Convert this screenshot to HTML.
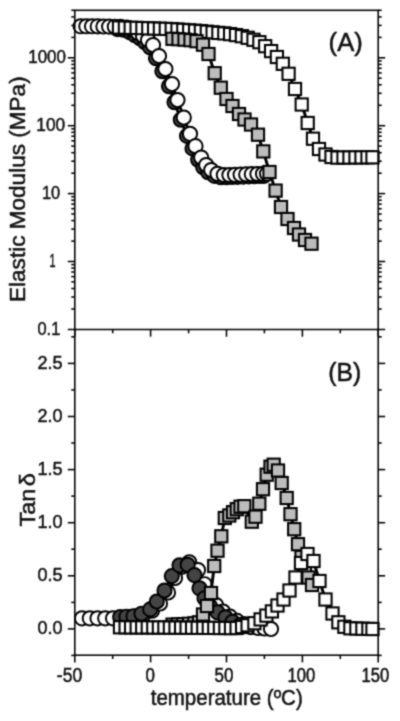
<!DOCTYPE html>
<html lang="en"><head><meta charset="utf-8"><title>DMA: Elastic Modulus and Tan delta vs temperature</title>
<style>html,body{margin:0;padding:0;background:#fff}body{width:400px;height:721px;overflow:hidden}svg{display:block}text{font-family:"Liberation Sans",Arial,sans-serif;fill:#111;stroke:#111;stroke-width:0.5px}</style></head><body>
<svg width="400" height="721" viewBox="0 0 400 721">
<defs><filter id="soft" x="0" y="0" width="400" height="721" filterUnits="userSpaceOnUse" color-interpolation-filters="sRGB"><feConvolveMatrix order="3" kernelMatrix="0.04 0.11 0.04 0.11 0.4 0.11 0.04 0.11 0.04" divisor="1" edgeMode="duplicate" preserveAlpha="false"/></filter></defs>
<g filter="url(#soft)">
<rect width="400" height="721" fill="#fff"/>
<g id="panelA">
<polyline fill="none" stroke="#000" stroke-width="2.9" stroke-linejoin="round" points="117.5,29.1 123.6,29.7 130.0,32.2 135.0,35.2 140.0,38.2 145.0,42.2 150.0,47.2 156.0,58.2 162.4,71.2 169.0,86.2 174.5,102.2 180.8,119.7 187.0,135.9 192.5,148.4 198.2,159.7 203.2,167.2 208.2,172.2 214.5,175.9 220.8,177.2 226.4,177.2 232.0,177.0 237.6,176.8 243.2,176.6 248.8,176.4 254.4,176.2 260.0,176.0 264.0,175.8"/>
<g fill="#444" stroke="#000" stroke-width="1.95"><circle cx="117.5" cy="29.1" r="7.1"/><circle cx="123.6" cy="29.7" r="7.1"/><circle cx="130.0" cy="32.2" r="7.1"/><circle cx="135.0" cy="35.2" r="7.1"/><circle cx="140.0" cy="38.2" r="7.1"/><circle cx="145.0" cy="42.2" r="7.1"/><circle cx="150.0" cy="47.2" r="7.1"/><circle cx="156.0" cy="58.2" r="7.1"/><circle cx="162.4" cy="71.2" r="7.1"/><circle cx="169.0" cy="86.2" r="7.1"/><circle cx="174.5" cy="102.2" r="7.1"/><circle cx="180.8" cy="119.7" r="7.1"/><circle cx="187.0" cy="135.9" r="7.1"/><circle cx="192.5" cy="148.4" r="7.1"/><circle cx="198.2" cy="159.7" r="7.1"/><circle cx="203.2" cy="167.2" r="7.1"/><circle cx="208.2" cy="172.2" r="7.1"/><circle cx="214.5" cy="175.9" r="7.1"/><circle cx="220.8" cy="177.2" r="7.1"/><circle cx="226.4" cy="177.2" r="7.1"/><circle cx="232.0" cy="177.0" r="7.1"/><circle cx="237.6" cy="176.8" r="7.1"/><circle cx="243.2" cy="176.6" r="7.1"/><circle cx="248.8" cy="176.4" r="7.1"/><circle cx="254.4" cy="176.2" r="7.1"/><circle cx="260.0" cy="176.0" r="7.1"/><circle cx="264.0" cy="175.8" r="7.1"/></g>
<polyline fill="none" stroke="#000" stroke-width="2.9" stroke-linejoin="round" points="80.6,26.3 86.3,26.3 92.0,26.3 97.7,26.4 103.4,26.5 109.1,26.6 114.8,26.7 120.5,26.9 126.6,27.5 133.0,30.0 138.0,33.0 143.0,36.0 148.0,40.0 153.0,45.0 159.0,56.0 165.4,69.0 172.0,84.0 177.5,100.0 183.8,117.5 190.0,133.8 195.5,146.2 201.2,157.5 206.2,165.0 211.2,170.0 217.5,173.8 223.8,175.0 229.4,175.0 235.0,174.8 240.6,174.6 246.2,174.4 251.8,174.2 257.4,174.0 263.0,173.8 267.0,173.6"/>
<g fill="#fff" stroke="#000" stroke-width="1.95"><circle cx="80.6" cy="26.3" r="7.1"/><circle cx="86.3" cy="26.3" r="7.1"/><circle cx="92.0" cy="26.3" r="7.1"/><circle cx="97.7" cy="26.4" r="7.1"/><circle cx="103.4" cy="26.5" r="7.1"/><circle cx="109.1" cy="26.6" r="7.1"/><circle cx="114.8" cy="26.7" r="7.1"/><circle cx="120.5" cy="26.9" r="7.1"/><circle cx="126.6" cy="27.5" r="7.1"/><circle cx="133.0" cy="30.0" r="7.1"/><circle cx="138.0" cy="33.0" r="7.1"/><circle cx="143.0" cy="36.0" r="7.1"/><circle cx="148.0" cy="40.0" r="7.1"/><circle cx="153.0" cy="45.0" r="7.1"/><circle cx="159.0" cy="56.0" r="7.1"/><circle cx="165.4" cy="69.0" r="7.1"/><circle cx="172.0" cy="84.0" r="7.1"/><circle cx="177.5" cy="100.0" r="7.1"/><circle cx="183.8" cy="117.5" r="7.1"/><circle cx="190.0" cy="133.8" r="7.1"/><circle cx="195.5" cy="146.2" r="7.1"/><circle cx="201.2" cy="157.5" r="7.1"/><circle cx="206.2" cy="165.0" r="7.1"/><circle cx="211.2" cy="170.0" r="7.1"/><circle cx="217.5" cy="173.8" r="7.1"/><circle cx="223.8" cy="175.0" r="7.1"/><circle cx="229.4" cy="175.0" r="7.1"/><circle cx="235.0" cy="174.8" r="7.1"/><circle cx="240.6" cy="174.6" r="7.1"/><circle cx="246.2" cy="174.4" r="7.1"/><circle cx="251.8" cy="174.2" r="7.1"/><circle cx="257.4" cy="174.0" r="7.1"/><circle cx="263.0" cy="173.8" r="7.1"/><circle cx="267.0" cy="173.6" r="7.1"/></g>
<polyline fill="none" stroke="#000" stroke-width="2.9" stroke-linejoin="round" points="119.0,27.5 124.8,27.6 130.7,27.8 136.6,27.9 142.4,28.1 148.2,28.3 154.1,28.5 159.9,28.7 165.8,28.9 171.7,29.1 177.5,29.5 183.3,29.9 189.2,30.3 195.1,30.7 200.9,31.1 206.8,31.7 212.6,32.3 218.4,32.9 224.3,33.4 230.1,34.1 236.0,35.1 241.8,36.2 247.7,37.8 253.5,39.8 259.4,42.2 265.2,46.2 271.1,51.1 276.9,57.0 282.8,63.8 288.6,73.8 295.0,89.0 301.7,104.5 307.7,123.0 313.0,138.7 319.0,149.0 325.5,154.5 331.5,157.0 337.5,157.6 343.5,157.5 349.5,157.5 355.5,157.4 361.5,157.4 367.5,157.3 372.5,157.3"/>
<g fill="#fff" stroke="#000" stroke-width="2.05"><rect x="112.9" y="21.4" width="12.2" height="12.2"/><rect x="118.8" y="21.5" width="12.2" height="12.2"/><rect x="124.6" y="21.7" width="12.2" height="12.2"/><rect x="130.5" y="21.8" width="12.2" height="12.2"/><rect x="136.3" y="22.0" width="12.2" height="12.2"/><rect x="142.2" y="22.2" width="12.2" height="12.2"/><rect x="148.0" y="22.4" width="12.2" height="12.2"/><rect x="153.8" y="22.6" width="12.2" height="12.2"/><rect x="159.7" y="22.8" width="12.2" height="12.2"/><rect x="165.6" y="23.0" width="12.2" height="12.2"/><rect x="171.4" y="23.4" width="12.2" height="12.2"/><rect x="177.2" y="23.8" width="12.2" height="12.2"/><rect x="183.1" y="24.2" width="12.2" height="12.2"/><rect x="189.0" y="24.6" width="12.2" height="12.2"/><rect x="194.8" y="25.0" width="12.2" height="12.2"/><rect x="200.7" y="25.6" width="12.2" height="12.2"/><rect x="206.5" y="26.2" width="12.2" height="12.2"/><rect x="212.3" y="26.8" width="12.2" height="12.2"/><rect x="218.2" y="27.3" width="12.2" height="12.2"/><rect x="224.0" y="28.0" width="12.2" height="12.2"/><rect x="229.9" y="29.0" width="12.2" height="12.2"/><rect x="235.8" y="30.1" width="12.2" height="12.2"/><rect x="241.6" y="31.7" width="12.2" height="12.2"/><rect x="247.4" y="33.7" width="12.2" height="12.2"/><rect x="253.3" y="36.1" width="12.2" height="12.2"/><rect x="259.1" y="40.1" width="12.2" height="12.2"/><rect x="265.0" y="45.0" width="12.2" height="12.2"/><rect x="270.8" y="50.9" width="12.2" height="12.2"/><rect x="276.7" y="57.7" width="12.2" height="12.2"/><rect x="282.5" y="67.7" width="12.2" height="12.2"/><rect x="288.9" y="82.9" width="12.2" height="12.2"/><rect x="295.6" y="98.4" width="12.2" height="12.2"/><rect x="301.6" y="116.9" width="12.2" height="12.2"/><rect x="306.9" y="132.6" width="12.2" height="12.2"/><rect x="312.9" y="142.9" width="12.2" height="12.2"/><rect x="319.4" y="148.4" width="12.2" height="12.2"/><rect x="325.4" y="150.9" width="12.2" height="12.2"/><rect x="331.4" y="151.5" width="12.2" height="12.2"/><rect x="337.4" y="151.4" width="12.2" height="12.2"/><rect x="343.4" y="151.4" width="12.2" height="12.2"/><rect x="349.4" y="151.3" width="12.2" height="12.2"/><rect x="355.4" y="151.3" width="12.2" height="12.2"/><rect x="361.4" y="151.2" width="12.2" height="12.2"/><rect x="366.4" y="151.2" width="12.2" height="12.2"/></g>
<polyline fill="none" stroke="#000" stroke-width="2.9" stroke-linejoin="round" points="172.5,38.8 178.5,39.2 184.5,39.6 190.5,40.2 196.5,41.2 203.0,44.7 208.5,54.0 214.7,73.2 220.8,87.7 226.5,99.0 232.5,106.0 239.0,114.0 244.5,119.5 251.0,124.5 258.0,134.7 263.3,151.4 269.5,172.0 275.6,190.6 281.0,207.0 287.5,219.0 294.0,228.0 299.0,234.5 305.0,240.0 311.5,243.7"/>
<g fill="#bcbcbc" stroke="#000" stroke-width="2.05"><rect x="166.4" y="32.7" width="12.2" height="12.2"/><rect x="172.4" y="33.1" width="12.2" height="12.2"/><rect x="178.4" y="33.5" width="12.2" height="12.2"/><rect x="184.4" y="34.1" width="12.2" height="12.2"/><rect x="190.4" y="35.1" width="12.2" height="12.2"/><rect x="196.9" y="38.6" width="12.2" height="12.2"/><rect x="202.4" y="47.9" width="12.2" height="12.2"/><rect x="208.6" y="67.1" width="12.2" height="12.2"/><rect x="214.7" y="81.6" width="12.2" height="12.2"/><rect x="220.4" y="92.9" width="12.2" height="12.2"/><rect x="226.4" y="99.9" width="12.2" height="12.2"/><rect x="232.9" y="107.9" width="12.2" height="12.2"/><rect x="238.4" y="113.4" width="12.2" height="12.2"/><rect x="244.9" y="118.4" width="12.2" height="12.2"/><rect x="251.9" y="128.6" width="12.2" height="12.2"/><rect x="257.2" y="145.3" width="12.2" height="12.2"/><rect x="263.4" y="165.9" width="12.2" height="12.2"/><rect x="269.5" y="184.5" width="12.2" height="12.2"/><rect x="274.9" y="200.9" width="12.2" height="12.2"/><rect x="281.4" y="212.9" width="12.2" height="12.2"/><rect x="287.9" y="221.9" width="12.2" height="12.2"/><rect x="292.9" y="228.4" width="12.2" height="12.2"/><rect x="298.9" y="233.9" width="12.2" height="12.2"/><rect x="305.4" y="237.6" width="12.2" height="12.2"/></g>
</g>
<g id="panelB">
<polyline fill="none" stroke="#000" stroke-width="2.9" stroke-linejoin="round" points="82.0,618.3 89.8,618.3 97.5,618.3 105.2,618.3 113.0,618.3 120.8,618.3 127.5,617.3 135.5,616.6 143.5,614.6 152.0,610.7 160.0,603.5 168.0,592.5 175.0,578.0 182.0,566.7 189.3,562.3 198.0,570.0 204.5,584.2 210.0,596.6 216.0,605.0 223.0,611.5 230.0,616.6 237.0,620.9 244.0,624.0 251.0,627.1 258.0,628.0 264.5,628.5 271.0,629.0"/>
<g fill="#fff" stroke="#000" stroke-width="1.95"><circle cx="82.0" cy="618.3" r="7.1"/><circle cx="89.8" cy="618.3" r="7.1"/><circle cx="97.5" cy="618.3" r="7.1"/><circle cx="105.2" cy="618.3" r="7.1"/><circle cx="113.0" cy="618.3" r="7.1"/><circle cx="120.8" cy="618.3" r="7.1"/><circle cx="127.5" cy="617.3" r="7.1"/><circle cx="135.5" cy="616.6" r="7.1"/><circle cx="143.5" cy="614.6" r="7.1"/><circle cx="152.0" cy="610.7" r="7.1"/><circle cx="160.0" cy="603.5" r="7.1"/><circle cx="168.0" cy="592.5" r="7.1"/><circle cx="175.0" cy="578.0" r="7.1"/><circle cx="182.0" cy="566.7" r="7.1"/><circle cx="189.3" cy="562.3" r="7.1"/><circle cx="198.0" cy="570.0" r="7.1"/><circle cx="204.5" cy="584.2" r="7.1"/><circle cx="210.0" cy="596.6" r="7.1"/><circle cx="216.0" cy="605.0" r="7.1"/><circle cx="223.0" cy="611.5" r="7.1"/><circle cx="230.0" cy="616.6" r="7.1"/><circle cx="237.0" cy="620.9" r="7.1"/><circle cx="244.0" cy="624.0" r="7.1"/><circle cx="251.0" cy="627.1" r="7.1"/><circle cx="258.0" cy="628.0" r="7.1"/><circle cx="264.5" cy="628.5" r="7.1"/><circle cx="271.0" cy="629.0" r="7.1"/></g>
<polyline fill="none" stroke="#000" stroke-width="2.9" stroke-linejoin="round" points="120.2,617.0 126.5,616.7 133.5,616.2 141.5,613.7 150.2,609.4 156.8,601.5 164.5,590.5 171.8,576.1 179.5,565.3 187.7,564.8 194.5,575.1 199.5,588.3 204.5,598.3 210.0,606.3 217.5,612.3 225.5,617.3 232.5,621.8 240.0,625.3"/>
<g fill="#444" stroke="#000" stroke-width="1.95"><circle cx="120.2" cy="617.0" r="7.1"/><circle cx="126.5" cy="616.7" r="7.1"/><circle cx="133.5" cy="616.2" r="7.1"/><circle cx="141.5" cy="613.7" r="7.1"/><circle cx="150.2" cy="609.4" r="7.1"/><circle cx="156.8" cy="601.5" r="7.1"/><circle cx="164.5" cy="590.5" r="7.1"/><circle cx="171.8" cy="576.1" r="7.1"/><circle cx="179.5" cy="565.3" r="7.1"/><circle cx="187.7" cy="564.8" r="7.1"/><circle cx="194.5" cy="575.1" r="7.1"/><circle cx="199.5" cy="588.3" r="7.1"/><circle cx="204.5" cy="598.3" r="7.1"/><circle cx="210.0" cy="606.3" r="7.1"/><circle cx="217.5" cy="612.3" r="7.1"/><circle cx="225.5" cy="617.3" r="7.1"/><circle cx="232.5" cy="621.8" r="7.1"/><circle cx="240.0" cy="625.3" r="7.1"/></g>
<polyline fill="none" stroke="#000" stroke-width="2.9" stroke-linejoin="round" points="172.5,624.6 178.0,624.4 183.5,624.1 189.0,623.8 194.5,623.3 199.0,622.3 203.0,614.5 207.0,606.0 211.0,593.0 214.2,566.0 217.5,550.7 221.3,536.3 224.8,518.0 229.2,515.5 233.0,512.2 236.8,509.2 240.5,506.8 244.2,506.2 251.8,521.8 255.5,516.8 259.2,503.8 263.0,489.2 266.8,474.8 270.5,466.8 273.8,464.8 278.0,470.5 281.8,483.0 286.8,498.0 290.5,514.2 294.2,529.2 298.0,544.2 301.5,557.0 305.0,568.0 308.5,577.5 312.0,585.0"/>
<g fill="#bcbcbc" stroke="#000" stroke-width="2.05"><rect x="166.4" y="618.5" width="12.2" height="12.2"/><rect x="171.9" y="618.3" width="12.2" height="12.2"/><rect x="177.4" y="618.0" width="12.2" height="12.2"/><rect x="182.9" y="617.7" width="12.2" height="12.2"/><rect x="188.4" y="617.2" width="12.2" height="12.2"/><rect x="192.9" y="616.2" width="12.2" height="12.2"/><rect x="196.9" y="608.4" width="12.2" height="12.2"/><rect x="200.9" y="599.9" width="12.2" height="12.2"/><rect x="204.9" y="586.9" width="12.2" height="12.2"/><rect x="208.1" y="559.9" width="12.2" height="12.2"/><rect x="211.4" y="544.6" width="12.2" height="12.2"/><rect x="215.2" y="530.2" width="12.2" height="12.2"/><rect x="218.7" y="511.9" width="12.2" height="12.2"/><rect x="223.2" y="509.4" width="12.2" height="12.2"/><rect x="226.9" y="506.1" width="12.2" height="12.2"/><rect x="230.7" y="503.1" width="12.2" height="12.2"/><rect x="234.4" y="500.6" width="12.2" height="12.2"/><rect x="238.2" y="500.1" width="12.2" height="12.2"/><rect x="245.7" y="515.6" width="12.2" height="12.2"/><rect x="249.4" y="510.6" width="12.2" height="12.2"/><rect x="253.2" y="497.6" width="12.2" height="12.2"/><rect x="256.9" y="483.1" width="12.2" height="12.2"/><rect x="260.6" y="468.6" width="12.2" height="12.2"/><rect x="264.4" y="460.6" width="12.2" height="12.2"/><rect x="267.6" y="458.6" width="12.2" height="12.2"/><rect x="271.9" y="464.4" width="12.2" height="12.2"/><rect x="275.6" y="476.9" width="12.2" height="12.2"/><rect x="280.6" y="491.9" width="12.2" height="12.2"/><rect x="284.4" y="508.1" width="12.2" height="12.2"/><rect x="288.1" y="523.1" width="12.2" height="12.2"/><rect x="291.9" y="538.1" width="12.2" height="12.2"/><rect x="295.4" y="550.9" width="12.2" height="12.2"/><rect x="298.9" y="561.9" width="12.2" height="12.2"/><rect x="302.4" y="571.4" width="12.2" height="12.2"/><rect x="305.9" y="578.9" width="12.2" height="12.2"/></g>
<polyline fill="none" stroke="#000" stroke-width="2.9" stroke-linejoin="round" points="120.0,627.3 125.5,627.3 131.1,627.4 136.7,627.4 142.2,627.4 147.8,627.4 153.3,627.5 158.8,627.5 164.4,627.5 169.9,627.6 175.5,627.6 181.1,627.6 186.6,627.7 192.1,627.7 197.7,627.8 203.2,627.8 208.8,627.9 214.3,627.9 219.9,628.0 225.4,628.0 231.0,628.1 236.6,628.0 242.1,627.0 247.6,625.3 254.4,623.2 260.6,619.4 266.4,615.6 271.9,611.4 277.5,605.5 283.5,599.5 289.5,590.5 295.5,577.5 301.0,563.0 307.5,554.0 313.5,561.0 319.5,581.0 325.5,599.5 332.5,613.5 338.4,622.3 344.4,626.8 350.4,628.3 356.4,628.5 362.4,628.7 368.4,628.9 372.5,629.0"/>
<g fill="#fff" stroke="#000" stroke-width="2.05"><rect x="113.9" y="621.2" width="12.2" height="12.2"/><rect x="119.5" y="621.2" width="12.2" height="12.2"/><rect x="125.0" y="621.3" width="12.2" height="12.2"/><rect x="130.6" y="621.3" width="12.2" height="12.2"/><rect x="136.1" y="621.3" width="12.2" height="12.2"/><rect x="141.7" y="621.3" width="12.2" height="12.2"/><rect x="147.2" y="621.4" width="12.2" height="12.2"/><rect x="152.8" y="621.4" width="12.2" height="12.2"/><rect x="158.3" y="621.4" width="12.2" height="12.2"/><rect x="163.8" y="621.5" width="12.2" height="12.2"/><rect x="169.4" y="621.5" width="12.2" height="12.2"/><rect x="175.0" y="621.5" width="12.2" height="12.2"/><rect x="180.5" y="621.6" width="12.2" height="12.2"/><rect x="186.0" y="621.6" width="12.2" height="12.2"/><rect x="191.6" y="621.7" width="12.2" height="12.2"/><rect x="197.2" y="621.7" width="12.2" height="12.2"/><rect x="202.7" y="621.8" width="12.2" height="12.2"/><rect x="208.2" y="621.8" width="12.2" height="12.2"/><rect x="213.8" y="621.9" width="12.2" height="12.2"/><rect x="219.3" y="621.9" width="12.2" height="12.2"/><rect x="224.9" y="622.0" width="12.2" height="12.2"/><rect x="230.5" y="621.9" width="12.2" height="12.2"/><rect x="236.0" y="620.9" width="12.2" height="12.2"/><rect x="241.5" y="619.2" width="12.2" height="12.2"/><rect x="248.3" y="617.1" width="12.2" height="12.2"/><rect x="254.5" y="613.3" width="12.2" height="12.2"/><rect x="260.3" y="609.5" width="12.2" height="12.2"/><rect x="265.8" y="605.3" width="12.2" height="12.2"/><rect x="271.4" y="599.4" width="12.2" height="12.2"/><rect x="277.4" y="593.4" width="12.2" height="12.2"/><rect x="283.4" y="584.4" width="12.2" height="12.2"/><rect x="289.4" y="571.4" width="12.2" height="12.2"/><rect x="294.9" y="556.9" width="12.2" height="12.2"/><rect x="301.4" y="547.9" width="12.2" height="12.2"/><rect x="307.4" y="554.9" width="12.2" height="12.2"/><rect x="313.4" y="574.9" width="12.2" height="12.2"/><rect x="319.4" y="593.4" width="12.2" height="12.2"/><rect x="326.4" y="607.4" width="12.2" height="12.2"/><rect x="332.3" y="616.2" width="12.2" height="12.2"/><rect x="338.3" y="620.7" width="12.2" height="12.2"/><rect x="344.3" y="622.2" width="12.2" height="12.2"/><rect x="350.3" y="622.4" width="12.2" height="12.2"/><rect x="356.3" y="622.6" width="12.2" height="12.2"/><rect x="362.3" y="622.8" width="12.2" height="12.2"/><rect x="366.4" y="622.9" width="12.2" height="12.2"/></g>
</g>
<g stroke="#000" stroke-width="1.55" fill="none" stroke-linecap="butt">
<rect x="74.8" y="10.3" width="303.4" height="644.9000000000001"/>
<line x1="67.8" y1="329.5" x2="385.2" y2="329.5"/>
<line x1="71.3" y1="309.0" x2="74.8" y2="309.0"/>
<line x1="378.2" y1="309.0" x2="381.7" y2="309.0"/>
<line x1="71.3" y1="297.0" x2="74.8" y2="297.0"/>
<line x1="378.2" y1="297.0" x2="381.7" y2="297.0"/>
<line x1="71.3" y1="288.5" x2="74.8" y2="288.5"/>
<line x1="378.2" y1="288.5" x2="381.7" y2="288.5"/>
<line x1="71.3" y1="281.9" x2="74.8" y2="281.9"/>
<line x1="378.2" y1="281.9" x2="381.7" y2="281.9"/>
<line x1="71.3" y1="276.6" x2="74.8" y2="276.6"/>
<line x1="378.2" y1="276.6" x2="381.7" y2="276.6"/>
<line x1="71.3" y1="272.0" x2="74.8" y2="272.0"/>
<line x1="378.2" y1="272.0" x2="381.7" y2="272.0"/>
<line x1="71.3" y1="268.1" x2="74.8" y2="268.1"/>
<line x1="378.2" y1="268.1" x2="381.7" y2="268.1"/>
<line x1="71.3" y1="264.6" x2="74.8" y2="264.6"/>
<line x1="378.2" y1="264.6" x2="381.7" y2="264.6"/>
<line x1="67.8" y1="261.5" x2="74.8" y2="261.5"/>
<line x1="378.2" y1="261.5" x2="385.2" y2="261.5"/>
<line x1="71.3" y1="241.1" x2="74.8" y2="241.1"/>
<line x1="378.2" y1="241.1" x2="381.7" y2="241.1"/>
<line x1="71.3" y1="229.1" x2="74.8" y2="229.1"/>
<line x1="378.2" y1="229.1" x2="381.7" y2="229.1"/>
<line x1="71.3" y1="220.6" x2="74.8" y2="220.6"/>
<line x1="378.2" y1="220.6" x2="381.7" y2="220.6"/>
<line x1="71.3" y1="214.0" x2="74.8" y2="214.0"/>
<line x1="378.2" y1="214.0" x2="381.7" y2="214.0"/>
<line x1="71.3" y1="208.7" x2="74.8" y2="208.7"/>
<line x1="378.2" y1="208.7" x2="381.7" y2="208.7"/>
<line x1="71.3" y1="204.1" x2="74.8" y2="204.1"/>
<line x1="378.2" y1="204.1" x2="381.7" y2="204.1"/>
<line x1="71.3" y1="200.2" x2="74.8" y2="200.2"/>
<line x1="378.2" y1="200.2" x2="381.7" y2="200.2"/>
<line x1="71.3" y1="196.7" x2="74.8" y2="196.7"/>
<line x1="378.2" y1="196.7" x2="381.7" y2="196.7"/>
<line x1="67.8" y1="193.6" x2="74.8" y2="193.6"/>
<line x1="378.2" y1="193.6" x2="385.2" y2="193.6"/>
<line x1="71.3" y1="173.2" x2="74.8" y2="173.2"/>
<line x1="378.2" y1="173.2" x2="381.7" y2="173.2"/>
<line x1="71.3" y1="161.2" x2="74.8" y2="161.2"/>
<line x1="378.2" y1="161.2" x2="381.7" y2="161.2"/>
<line x1="71.3" y1="152.7" x2="74.8" y2="152.7"/>
<line x1="378.2" y1="152.7" x2="381.7" y2="152.7"/>
<line x1="71.3" y1="146.1" x2="74.8" y2="146.1"/>
<line x1="378.2" y1="146.1" x2="381.7" y2="146.1"/>
<line x1="71.3" y1="140.8" x2="74.8" y2="140.8"/>
<line x1="378.2" y1="140.8" x2="381.7" y2="140.8"/>
<line x1="71.3" y1="136.2" x2="74.8" y2="136.2"/>
<line x1="378.2" y1="136.2" x2="381.7" y2="136.2"/>
<line x1="71.3" y1="132.3" x2="74.8" y2="132.3"/>
<line x1="378.2" y1="132.3" x2="381.7" y2="132.3"/>
<line x1="71.3" y1="128.8" x2="74.8" y2="128.8"/>
<line x1="378.2" y1="128.8" x2="381.7" y2="128.8"/>
<line x1="67.8" y1="125.7" x2="74.8" y2="125.7"/>
<line x1="378.2" y1="125.7" x2="385.2" y2="125.7"/>
<line x1="71.3" y1="105.3" x2="74.8" y2="105.3"/>
<line x1="378.2" y1="105.3" x2="381.7" y2="105.3"/>
<line x1="71.3" y1="93.3" x2="74.8" y2="93.3"/>
<line x1="378.2" y1="93.3" x2="381.7" y2="93.3"/>
<line x1="71.3" y1="84.8" x2="74.8" y2="84.8"/>
<line x1="378.2" y1="84.8" x2="381.7" y2="84.8"/>
<line x1="71.3" y1="78.2" x2="74.8" y2="78.2"/>
<line x1="378.2" y1="78.2" x2="381.7" y2="78.2"/>
<line x1="71.3" y1="72.9" x2="74.8" y2="72.9"/>
<line x1="378.2" y1="72.9" x2="381.7" y2="72.9"/>
<line x1="71.3" y1="68.3" x2="74.8" y2="68.3"/>
<line x1="378.2" y1="68.3" x2="381.7" y2="68.3"/>
<line x1="71.3" y1="64.4" x2="74.8" y2="64.4"/>
<line x1="378.2" y1="64.4" x2="381.7" y2="64.4"/>
<line x1="71.3" y1="60.9" x2="74.8" y2="60.9"/>
<line x1="378.2" y1="60.9" x2="381.7" y2="60.9"/>
<line x1="67.8" y1="57.8" x2="74.8" y2="57.8"/>
<line x1="378.2" y1="57.8" x2="385.2" y2="57.8"/>
<line x1="71.3" y1="37.4" x2="74.8" y2="37.4"/>
<line x1="378.2" y1="37.4" x2="381.7" y2="37.4"/>
<line x1="71.3" y1="25.4" x2="74.8" y2="25.4"/>
<line x1="378.2" y1="25.4" x2="381.7" y2="25.4"/>
<line x1="71.3" y1="16.9" x2="74.8" y2="16.9"/>
<line x1="378.2" y1="16.9" x2="381.7" y2="16.9"/>
<line x1="71.3" y1="10.3" x2="74.8" y2="10.3"/>
<line x1="378.2" y1="10.3" x2="381.7" y2="10.3"/>
<line x1="71.3" y1="655.4" x2="74.8" y2="655.4"/>
<line x1="378.2" y1="655.4" x2="381.7" y2="655.4"/>
<line x1="67.8" y1="628.9" x2="74.8" y2="628.9"/>
<line x1="378.2" y1="628.9" x2="385.2" y2="628.9"/>
<line x1="71.3" y1="602.4" x2="74.8" y2="602.4"/>
<line x1="378.2" y1="602.4" x2="381.7" y2="602.4"/>
<line x1="67.8" y1="575.8" x2="74.8" y2="575.8"/>
<line x1="378.2" y1="575.8" x2="385.2" y2="575.8"/>
<line x1="71.3" y1="549.2" x2="74.8" y2="549.2"/>
<line x1="378.2" y1="549.2" x2="381.7" y2="549.2"/>
<line x1="67.8" y1="522.7" x2="74.8" y2="522.7"/>
<line x1="378.2" y1="522.7" x2="385.2" y2="522.7"/>
<line x1="71.3" y1="496.1" x2="74.8" y2="496.1"/>
<line x1="378.2" y1="496.1" x2="381.7" y2="496.1"/>
<line x1="67.8" y1="469.6" x2="74.8" y2="469.6"/>
<line x1="378.2" y1="469.6" x2="385.2" y2="469.6"/>
<line x1="71.3" y1="443.0" x2="74.8" y2="443.0"/>
<line x1="378.2" y1="443.0" x2="381.7" y2="443.0"/>
<line x1="67.8" y1="416.5" x2="74.8" y2="416.5"/>
<line x1="378.2" y1="416.5" x2="385.2" y2="416.5"/>
<line x1="71.3" y1="389.9" x2="74.8" y2="389.9"/>
<line x1="378.2" y1="389.9" x2="381.7" y2="389.9"/>
<line x1="67.8" y1="363.4" x2="74.8" y2="363.4"/>
<line x1="378.2" y1="363.4" x2="385.2" y2="363.4"/>
<line x1="71.3" y1="336.8" x2="74.8" y2="336.8"/>
<line x1="378.2" y1="336.8" x2="381.7" y2="336.8"/>
<line x1="74.8" y1="655.2" x2="74.8" y2="662.4"/>
<line x1="74.8" y1="329.5" x2="74.8" y2="336.7"/>
<line x1="112.7" y1="655.2" x2="112.7" y2="659.0"/>
<line x1="112.7" y1="329.5" x2="112.7" y2="333.3"/>
<line x1="150.6" y1="655.2" x2="150.6" y2="662.4"/>
<line x1="150.6" y1="329.5" x2="150.6" y2="336.7"/>
<line x1="188.6" y1="655.2" x2="188.6" y2="659.0"/>
<line x1="188.6" y1="329.5" x2="188.6" y2="333.3"/>
<line x1="226.5" y1="655.2" x2="226.5" y2="662.4"/>
<line x1="226.5" y1="329.5" x2="226.5" y2="336.7"/>
<line x1="264.4" y1="655.2" x2="264.4" y2="659.0"/>
<line x1="264.4" y1="329.5" x2="264.4" y2="333.3"/>
<line x1="302.4" y1="655.2" x2="302.4" y2="662.4"/>
<line x1="302.4" y1="329.5" x2="302.4" y2="336.7"/>
<line x1="340.3" y1="655.2" x2="340.3" y2="659.0"/>
<line x1="340.3" y1="329.5" x2="340.3" y2="333.3"/>
<line x1="378.2" y1="655.2" x2="378.2" y2="662.4"/>
<line x1="378.2" y1="329.5" x2="378.2" y2="336.7"/>
</g>
<text transform="translate(28.30,63.40) scale(0.9013,1)" font-size="18.8">1000</text>
<text transform="translate(36.30,131.30) scale(0.9205,1)" font-size="18.8">100</text>
<text transform="translate(42.00,199.20) scale(0.8721,1)" font-size="18.8">10</text>
<text transform="translate(49.50,267.10) scale(0.5750,1)" font-size="18.8">1</text>
<text transform="translate(37.50,335.10) scale(0.8725,1)" font-size="18.8">0.1</text>
<text transform="translate(37.51,368.80) scale(0.9600,1)" font-size="18.8">2.5</text>
<text transform="translate(37.51,421.90) scale(0.9600,1)" font-size="18.8">2.0</text>
<text transform="translate(37.51,475.00) scale(0.9600,1)" font-size="18.8">1.5</text>
<text transform="translate(37.51,528.10) scale(0.9600,1)" font-size="18.8">1.0</text>
<text transform="translate(37.51,581.20) scale(0.9600,1)" font-size="18.8">0.5</text>
<text transform="translate(37.51,634.30) scale(0.9600,1)" font-size="18.8">0.0</text>
<text transform="translate(56.80,682.20) scale(0.9014,1)" font-size="19.5">-50</text>
<text transform="translate(145.60,682.20) scale(0.8686,1)" font-size="19.5">0</text>
<text transform="translate(214.60,682.20) scale(0.8732,1)" font-size="19.5">50</text>
<text transform="translate(287.60,682.20) scale(0.8537,1)" font-size="19.5">100</text>
<text transform="translate(361.60,682.20) scale(0.8537,1)" font-size="19.5">150</text>
<text transform="translate(150.70,705.30) scale(0.9484,1)" font-size="21.6">temperature (ºC)</text>
<text transform="translate(24.50,302.00) rotate(-90) scale(1.0546,1)" font-size="21.4">Elastic Modulus (MPa)</text>
<text transform="translate(35.00,526.60) rotate(-90) scale(1.0507,1)" font-size="22.5" style="word-spacing:-4px">Tan δ</text>
<text transform="translate(328.60,51.30) scale(1.0046,1)" font-size="25.5">(A)</text>
<text transform="translate(328.20,380.50) scale(0.9888,1)" font-size="25">(B)</text>
</g></svg></body></html>
